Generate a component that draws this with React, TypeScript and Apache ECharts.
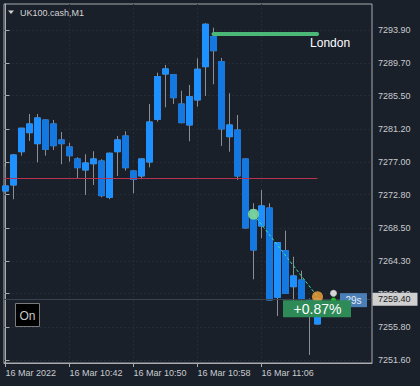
import React, { useEffect, useRef } from "react";
import * as echarts from "echarts";

// ---- data ----
const symbolTitle = "UK100.cash,M1";
const opens = [7273.28, 7274.05, 7278.32, 7280.76, 7279.35, 7282.39, 7281.88, 7279.83, 7278.93, 7277.39,
  7275.98, 7276.78, 7277.13, 7272.47, 7278.32, 7280.34, 7275.85, 7275.21, 7277.0, 7282.48,
  7288.29, 7288.2, 7284.44, 7281.75, 7284.96, 7289.23, 7293.08, 7289.87, 7280.25, 7281.11,
  7277.39, 7270.85, 7268.79, 7271.1, 7259.64, 7265.62, 7261.0, 7261.86, 7259.3, 7256.22];
const closes = [7273.92, 7277.9, 7281.33, 7281.88, 7282.65, 7278.63, 7279.09, 7279.35, 7277.81, 7276.27,
  7276.87, 7277.39, 7272.68, 7278.12, 7279.83, 7276.27, 7274.78, 7277.39, 7282.13, 7287.95,
  7288.94, 7285.25, 7282.05, 7285.38, 7288.9, 7294.67, 7291.28, 7281.24, 7281.75, 7275.21,
  7268.54, 7265.71, 7271.36, 7259.3, 7266.65, 7260.16, 7262.38, 7259.39, 7257.3, 7259.4];
const lows = [7272.64, 7272.22, 7277.81, 7279.7, 7276.96, 7277.81, 7278.54, 7276.71, 7277.04, 7274.91,
  7272.77, 7274.05, 7272.47, 7272.22, 7275.21, 7275.89, 7272.99, 7274.78, 7276.32, 7282.17,
  7284.02, 7284.44, 7281.95, 7279.66, 7284.1, 7285.47, 7286.97, 7279.06, 7278.32, 7274.7,
  7268.45, 7261.95, 7267.21, 7259.25, 7257.24, 7260.1, 7259.08, 7258.87, 7252.24, 7256.15];
const highs = [7276.4, 7278.0, 7281.4, 7283.16, 7283.16, 7282.45, 7282.39, 7280.85, 7279.48, 7277.6,
  7277.99, 7278.38, 7277.35, 7278.2, 7280.34, 7280.94, 7275.9, 7277.45, 7284.44, 7288.46,
  7289.45, 7288.25, 7286.15, 7286.88, 7290.31, 7294.8, 7294.23, 7290.35, 7285.82, 7283.03,
  7277.45, 7271.71, 7273.41, 7271.71, 7266.7, 7268.19, 7264.85, 7263.06, 7259.5, 7259.6];

const xTickIndex = [0, 8, 16, 24, 32];
const xTickLabels = ["16 Mar 2022", "16 Mar 10:42", "16 Mar 10:50", "16 Mar 10:58", "16 Mar 11:06"];
const yTicks = [7251.6, 7255.8, 7260.1, 7264.3, 7268.5, 7272.8, 7277.0, 7281.2, 7285.5, 7289.7, 7293.9];

const redLevel = 7274.86;
const bidPrice = 7259.4;
const londonLevel = 7293.39;
const londonStart = 26.0;
const londonEnd = 38.95;
const trendStart = [31, 7270.29];
const trendEnd = [39, 7259.72];
const pingMarker = [41, 7260.16];
const tickMarker = [41, 7259.3];
const changeText = "+0.87%";
const timerText = "29s";

const X_MIN = -0.1875;
const X_MAX = 45.8125;
const Y_MIN = 7251.21;
const Y_MAX = 7297.27;

const FONT = "'Liberation Sans', Arial, sans-serif";
const BG = "#19202a";
const FRAME = "#a9abae";
const TEXT = "#c9cbce";
const GRID = "#232b36";
const BULL = "#1e90ff";
const BEAR = "#1478e0";
const WICK = "#8b8f95";

export default function App() {
  const ref = useRef<HTMLDivElement>(null);
  useEffect(() => {
    if (!ref.current) return;
    const chart = echarts.init(ref.current, null, { renderer: "svg" });
    const idx = opens.map((_, i) => i);
    const full = idx.map((i) => [i, opens[i], closes[i], lows[i], highs[i]]);
    const bodies = idx.map((i) => [i, opens[i], closes[i], Math.min(opens[i], closes[i]), Math.max(opens[i], closes[i])]);

    chart.setOption({
      animation: false,
      backgroundColor: BG,
      grid: { left: 4, top: 4, right: 48, bottom: 23, show: true, borderColor: FRAME, borderWidth: 1, backgroundColor: "transparent" },
      xAxis: {
        type: "value",
        min: X_MIN,
        max: X_MAX,
        axisLine: { show: true, lineStyle: { color: FRAME } },
        axisTick: { show: true, customValues: xTickIndex, length: 4, lineStyle: { color: FRAME } },
        axisLabel: {
          customValues: xTickIndex,
          formatter: (v: number) => {
            const k = xTickIndex.indexOf(Math.round(v));
            return k >= 0 ? xTickLabels[k] : "";
          },
          align: "left",
          color: TEXT,
          fontSize: 9,
          fontFamily: FONT,
          margin: 5,
        },
        splitLine: { show: true, lineStyle: { color: GRID, type: [2, 2] } },
      },
      yAxis: {
        type: "value",
        position: "right",
        min: Y_MIN,
        max: Y_MAX,
        scale: true,
        axisLine: { show: true, lineStyle: { color: FRAME } },
        axisTick: { show: true, customValues: yTicks, length: 4, lineStyle: { color: FRAME } },
        axisLabel: {
          customValues: yTicks,
          formatter: (v: number) => v.toFixed(2),
          color: TEXT,
          fontSize: 9,
          fontFamily: FONT,
          margin: 6,
        },
        splitLine: { show: true, lineStyle: { color: GRID, type: [2, 2] } },
      },
      series: [
        {
          type: "candlestick",
          name: "wicks",
          data: full,
          encode: { x: 0, y: [1, 2, 3, 4] },
          barWidth: 6,
          z: 2,
          itemStyle: { color: WICK, color0: WICK, borderColor: WICK, borderColor0: WICK, borderWidth: 1 },
        },
        {
          type: "candlestick",
          name: "bodies",
          data: bodies,
          encode: { x: 0, y: [1, 2, 3, 4] },
          barWidth: 6,
          z: 3,
          itemStyle: { color: BULL, color0: BEAR, borderColor: BULL, borderColor0: BEAR, borderWidth: 1 },
        },
        {
          type: "scatter",
          name: "objects",
          z: 5,
          data: [
            { value: trendStart, symbolSize: 11, itemStyle: { color: "#8fe58f" } },
            { value: trendEnd, symbolSize: 11, itemStyle: { color: "#f6a93a" } },
            { value: pingMarker, symbol: "emptyCircle", symbolSize: 5, itemStyle: { color: "#e0e0e0", borderColor: "#e0e0e0", borderWidth: 1.2 } },
            { value: tickMarker, symbolSize: 5, itemStyle: { color: "#18e018" } },
          ],
          markLine: {
            silent: true,
            symbol: ["none", "none"],
            label: { show: false },
            data: [
              { yAxis: bidPrice, lineStyle: { color: "#3a424d", width: 1, type: "solid" } },
              [
                { coord: [X_MIN, redLevel], lineStyle: { color: "#b8334f", width: 1, type: "solid" } },
                { coord: [39, redLevel] },
              ],
              [
                { coord: [londonStart, londonLevel], lineStyle: { color: "#4cb878", width: 4, cap: "round", type: "solid" } },
                { coord: [londonEnd, londonLevel] },
              ],
              [
                { coord: trendStart, lineStyle: { color: "#3ee0a0", width: 1, type: [3, 2] } },
                { coord: trendEnd },
              ],
            ],
          },
        },
      ],
    });

    const last = chart.convertToPixel({ gridIndex: 0 }, [opens.length - 1, bidPrice]) as number[];
    const lon = chart.convertToPixel({ gridIndex: 0 }, [londonEnd, londonLevel]) as number[];
    const gridRight = (chart.convertToPixel({ gridIndex: 0 }, [X_MAX, bidPrice]) as number[])[0];

    chart.setOption({
      graphic: [
        { type: "polygon", z: 100, shape: { points: [[8, 10.5], [14, 10.5], [11, 14]] }, style: { fill: "#d0d0d0" } },
        { type: "text", z: 100, x: 20, y: 12.7, style: { text: symbolTitle, fill: "#d4d4d4", fontSize: 9, fontFamily: FONT, verticalAlign: "middle", align: "left" } },
        { type: "text", z: 100, x: lon[0] - 7, y: lon[1] + 9, style: { text: "London", fill: "#ffffff", fontSize: 12, fontFamily: FONT, verticalAlign: "middle", align: "left" } },
        { type: "rect", z: 100, shape: { x: last[0] + 22.5, y: last[1] - 6, width: 27, height: 14 }, style: { fill: "#4a7fb5" } },
        { type: "text", z: 101, x: last[0] + 36, y: last[1] + 1, style: { text: timerText, fill: "#e6edf5", fontSize: 10, fontFamily: FONT, verticalAlign: "middle", align: "center" } },
        { type: "rect", z: 102, shape: { x: last[0] - 34.5, y: last[1] + 1, width: 68, height: 17 }, style: { fill: "#2e8b57" } },
        { type: "text", z: 103, x: last[0], y: last[1] + 9.8, style: { text: changeText, fill: "#ffffff", fontSize: 14, fontFamily: FONT, verticalAlign: "middle", align: "center" } },
        { type: "rect", z: 100, shape: { x: gridRight + 0.5, y: last[1] - 6.5, width: 45, height: 13 }, style: { fill: "#d0d0d0" } },
        { type: "text", z: 101, x: gridRight + 6, y: last[1], style: { text: bidPrice.toFixed(2), fill: "#1a1a1a", fontSize: 9, fontFamily: FONT, verticalAlign: "middle", align: "left" } },
        { type: "rect", z: 100, shape: { x: 15.5, y: 303.5, width: 24, height: 23 }, style: { fill: "#000000", stroke: "#7a7a7a", lineWidth: 1 } },
        { type: "text", z: 101, x: 27.5, y: 315.5, style: { text: "On", fill: "#c8c8c8", fontSize: 12, fontFamily: FONT, verticalAlign: "middle", align: "center" } },
      ],
    });

    return () => chart.dispose();
  }, []);
  return (
    <div
      ref={ref}
      style={{ position: "absolute", left: 0, top: 0, width: 420, height: 386, background: BG }}
    />
  );
}
